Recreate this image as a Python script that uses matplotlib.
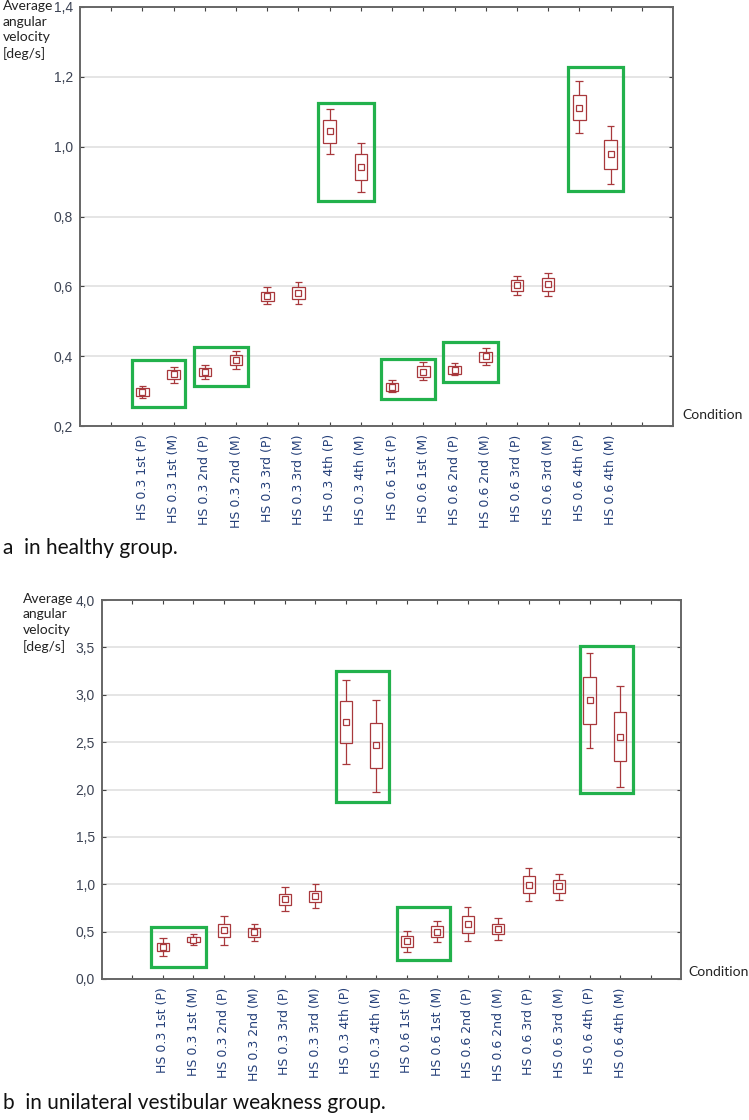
import matplotlib
matplotlib.use("Agg")
import matplotlib.pyplot as plt
from matplotlib.patches import Rectangle

# -------------------------------
# Data
# -------------------------------
conditions = ["HS 0.3 1st (P)", "HS 0.3 1st (M)", "HS 0.3 2nd (P)", "HS 0.3 2nd (M)",
              "HS 0.3 3rd (P)", "HS 0.3 3rd (M)", "HS 0.3 4th (P)", "HS 0.3 4th (M)",
              "HS 0.6 1st (P)", "HS 0.6 1st (M)", "HS 0.6 2nd (P)", "HS 0.6 2nd (M)",
              "HS 0.6 3rd (P)", "HS 0.6 3rd (M)", "HS 0.6 4th (P)", "HS 0.6 4th (M)"]

# (a) healthy group
a_mean = [0.298, 0.348, 0.355, 0.389, 0.572, 0.580, 1.045, 0.941,
          0.313, 0.356, 0.360, 0.400, 0.603, 0.606, 1.112, 0.979]
a_box_lo = [0.287, 0.335, 0.343, 0.375, 0.559, 0.563, 1.011, 0.904,
            0.301, 0.339, 0.349, 0.384, 0.588, 0.588, 1.076, 0.936]
a_box_hi = [0.309, 0.360, 0.365, 0.402, 0.584, 0.597, 1.076, 0.978,
            0.322, 0.372, 0.372, 0.413, 0.618, 0.625, 1.148, 1.020]
a_whis_lo = [0.281, 0.324, 0.334, 0.363, 0.548, 0.548, 0.980, 0.869,
             0.296, 0.331, 0.345, 0.374, 0.576, 0.572, 1.039, 0.894]
a_whis_hi = [0.315, 0.370, 0.376, 0.416, 0.597, 0.612, 1.107, 1.011,
             0.331, 0.383, 0.379, 0.424, 0.630, 0.639, 1.187, 1.059]
# highlight frames: (x0, x1, y0, y1)
a_frames = [(0.66, 2.35, 0.255, 0.389), (2.65, 4.39, 0.315, 0.425),
            (6.63, 8.43, 0.844, 1.124), (8.66, 10.38, 0.277, 0.392),
            (10.64, 12.40, 0.327, 0.440), (14.65, 16.39, 0.874, 1.228)]

# (b) unilateral vestibular weakness group
b_mean = [0.337, 0.415, 0.513, 0.492, 0.844, 0.879, 2.714, 2.468,
          0.397, 0.499, 0.576, 0.527, 0.987, 0.981, 2.946, 2.556]
b_box_lo = [0.291, 0.386, 0.443, 0.439, 0.784, 0.808, 2.489, 2.222,
            0.338, 0.439, 0.485, 0.475, 0.907, 0.907, 2.690, 2.296]
b_box_hi = [0.380, 0.443, 0.580, 0.538, 0.900, 0.924, 2.936, 2.700,
            0.449, 0.562, 0.660, 0.580, 1.082, 1.044, 3.189, 2.816]
b_whis_lo = [0.238, 0.362, 0.358, 0.404, 0.720, 0.749, 2.268, 1.976,
             0.281, 0.386, 0.404, 0.415, 0.826, 0.837, 2.437, 2.029]
b_whis_hi = [0.432, 0.475, 0.668, 0.580, 0.966, 0.998, 3.160, 2.946,
             0.502, 0.615, 0.763, 0.640, 1.171, 1.111, 3.445, 3.094]
b_frames = [(0.615, 2.42, 0.127, 0.544), (6.67, 8.41, 1.867, 3.249),
            (8.67, 10.43, 0.204, 0.759), (14.67, 16.41, 1.968, 3.519)]

# -------------------------------
# Style
# -------------------------------
W, H = 749, 1120
BOX_C = "#a8383c"
GREEN = "#22b14c"
TICK_C = "#3c4354"
XLAB_C = "#25407a"
SPINE_C = "#666666"


def px(x, y):
    # figure fraction from pixel position (origin top-left)
    return x / W, 1 - y / H


def draw_panel(ax, mean, box_lo, box_hi, whis_lo, whis_hi, frames, yticks):
    pos = list(range(1, len(mean) + 1))
    bw, cw = 0.40, 0.25
    for x, m, bl, bh, wl, wh in zip(pos, mean, box_lo, box_hi, whis_lo, whis_hi):
        ax.add_patch(Rectangle((x - bw / 2, bl), bw, bh - bl, fill=False,
                               edgecolor=BOX_C, lw=0.9, zorder=3))
        ax.vlines([x, x], [wl, bh], [bl, wh], color=BOX_C, lw=0.9, zorder=3)
        ax.hlines([wl, wh], x - cw / 2, x + cw / 2, color=BOX_C, lw=0.9, zorder=3)
    ax.plot(pos, mean, ls="none", marker="s", ms=4.3, mfc="white",
            mec=BOX_C, mew=0.9, zorder=4)

    for x0, x1, y0, y1 in frames:
        ax.add_patch(Rectangle((x0, y0), x1 - x0, y1 - y0, fill=False,
                               edgecolor=GREEN, lw=2.3, zorder=5))

    ax.set_xlim(-1, 18)
    ax.set_ylim(yticks[0], yticks[-1])
    ax.set_xticks(range(18))
    ax.set_xticklabels([""] + conditions + [""], rotation=90,
                       fontsize=9, color=XLAB_C, family="DejaVu Sans")
    ax.set_yticks(yticks)
    ax.set_yticklabels([f"{t:.1f}".replace(".", ",") for t in yticks],
                       fontsize=10, color=TICK_C, family="Liberation Sans")
    ax.tick_params(axis="x", direction="in", length=3, width=0.8, top=True,
                   color="#444444", pad=6)
    ax.tick_params(axis="y", direction="in", length=3, width=0.8, right=True,
                   color="#444444", pad=5)
    ax.grid(axis="y", color="#e0e0e0", lw=1.2)
    ax.set_axisbelow(True)
    for s in ax.spines.values():
        s.set_color(SPINE_C)
        s.set_linewidth(1.4)


fig = plt.figure(figsize=(W / 100, H / 100), dpi=100)

# panel a
l, t = px(80, 7)
r, b = px(673, 426)
ax1 = fig.add_axes([l, b, r - l, t - b])
draw_panel(ax1, a_mean, a_box_lo, a_box_hi, a_whis_lo, a_whis_hi, a_frames,
           [0.2, 0.4, 0.6, 0.8, 1.0, 1.2, 1.4])

# panel b
l, t = px(102, 600)
r, b = px(681, 979)
ax2 = fig.add_axes([l, b, r - l, t - b])
draw_panel(ax2, b_mean, b_box_lo, b_box_hi, b_whis_lo, b_whis_hi, b_frames,
           [0.0, 0.5, 1.0, 1.5, 2.0, 2.5, 3.0, 3.5, 4.0])

# axis titles and captions
ylab = "Average\nangular\nvelocity\n[deg/s]"
fig.text(*px(3, 0), ylab, ha="left", va="top", fontsize=10,
         family="Lato", color="#222222", linespacing=1.35)
fig.text(*px(23, 593), ylab, ha="left", va="top", fontsize=10,
         family="Lato", color="#222222", linespacing=1.35)
fig.text(*px(682, 415), "Condition", ha="left", va="center", fontsize=10,
         family="Lato", color="#222222")
fig.text(*px(688, 972), "Condition", ha="left", va="center", fontsize=10,
         family="Lato", color="#222222")
fig.text(*px(3, 548), "a  in healthy group.", ha="left", va="center",
         fontsize=15, family="Lato", color="#111111")
fig.text(*px(3, 1103), "b  in unilateral vestibular weakness group.", ha="left",
         va="center", fontsize=15, family="Lato", color="#111111")

fig.savefig("out.png", dpi=100)
